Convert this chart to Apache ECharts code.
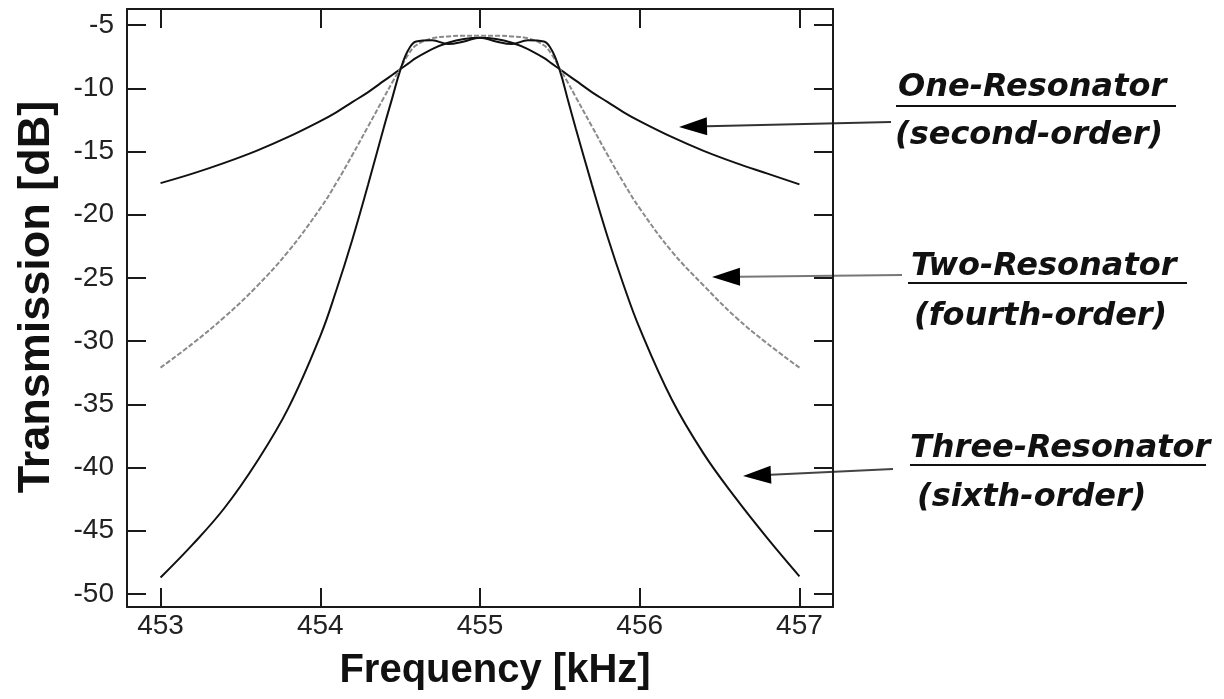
<!DOCTYPE html>
<html>
<head>
<meta charset="utf-8">
<script src="https://cdn.jsdelivr.net/npm/echarts@6/dist/echarts.min.js"></script>
<style>html,body{margin:0;padding:0;background:#fff;}#c{width:1224px;height:699px;}</style>
</head>
<body>
<div id="c"></div>
<script>
// Frequencies (kHz)
var freqs = [453, 453.2, 453.4, 453.6, 453.8, 454, 454.1, 454.2, 454.3, 454.4, 454.45, 454.5, 454.55, 454.6, 454.7, 454.8, 454.9, 455,
             455.1, 455.2, 455.3, 455.4, 455.45, 455.5, 455.55, 455.6, 455.7, 455.8, 455.9, 456, 456.2, 456.4, 456.6, 456.8, 457];
// Transmission (dB)
var oneResonator = [-17.5, -16.75, -15.9, -14.95, -13.85, -12.6, -11.9, -11.1, -10.3, -9.4, -8.95, -8.5, -8.05, -7.6, -6.9, -6.4, -6.1, -6.0,
                    -6.1, -6.4, -6.9, -7.6, -8.05, -8.5, -8.95, -9.4, -10.3, -11.1, -11.9, -12.6, -13.85, -14.95, -15.9, -16.75, -17.6];
var twoResonator = [-32.1, -30.2, -28.1, -25.7, -22.9, -19.5, -17.5, -15.3, -13.0, -10.7, -9.55, -8.45, -7.35, -6.6, -6.05, -5.9, -5.85, -5.85,
                    -5.85, -5.9, -6.05, -6.6, -7.35, -8.45, -9.55, -10.7, -13.0, -15.3, -17.5, -19.5, -22.9, -25.6, -28.1, -30.2, -32.1];
var threeResonator = [-48.7, -46.1, -43.2, -39.6, -35.3, -29.6, -26.0, -22.0, -17.6, -13.0, -10.8, -8.6, -7.0, -6.3, -6.2, -6.5, -6.3, -6.0,
                      -6.3, -6.5, -6.2, -6.3, -7.0, -8.6, -10.9, -13.2, -17.6, -21.8, -25.6, -29.0, -34.6, -38.9, -42.4, -45.6, -48.6];
var xTicks = [453, 454, 455, 456, 457];
var yTicks = [-50, -45, -40, -35, -30, -25, -20, -15, -10, -5];

function pairs(vals) { return freqs.map(function (f, i) { return [f, vals[i]]; }); }

var chart = echarts.init(document.getElementById('c'), null, {renderer: 'canvas'});
var axisCol = '#1a1a1a';
var tickFont = {fontFamily: 'Liberation Sans, Arial, sans-serif', fontSize: 28, color: '#222'};
function xAx(pos, labels) {
  return {
    type: 'value', position: pos, min: 452.79, max: 457.21,
    axisLine: {show: true, onZero: false, lineStyle: {color: axisCol, width: 2}},
    axisTick: {show: true, inside: true, length: 19, customValues: xTicks, lineStyle: {color: axisCol, width: 2}},
    axisLabel: labels ? Object.assign({show: true, margin: 5, customValues: xTicks}, tickFont) : {show: false},
    splitLine: {show: false}
  };
}
function yAx(pos, labels) {
  return {
    type: 'value', position: pos, min: -51.03, max: -3.73,
    axisLine: {show: true, onZero: false, lineStyle: {color: axisCol, width: 2}},
    axisTick: {show: true, inside: true, length: 19, customValues: yTicks, lineStyle: {color: axisCol, width: 2}},
    axisLabel: labels ? Object.assign({show: true, margin: 13, customValues: yTicks}, tickFont) : {show: false},
    splitLine: {show: false}
  };
}
var xA = xAx('bottom', true);
xA.name = 'Frequency [kHz]'; xA.nameLocation = 'middle'; xA.nameGap = 44;
xA.nameTextStyle = {fontFamily: 'Liberation Sans, Arial, sans-serif', fontWeight: 'bold', fontSize: 40, color: '#111', padding: [0, 0, 0, 30]};
var yA = yAx('left', true);
yA.name = 'Transmission [dB]'; yA.nameLocation = 'middle'; yA.nameGap = 68;
yA.nameTextStyle = {fontFamily: 'Liberation Sans, Arial, sans-serif', fontWeight: 'bold', fontSize: 45, color: '#111', padding: [0, 0, 0, 22]};

var annFont = 'DejaVu Sans, Verdana, sans-serif';
function txt(s, x, y) {
  return {type: 'text', x: x, y: y, style: {text: s, font: 'italic bold 32px ' + annFont, fill: '#111', textVerticalAlign: 'middle', textAlign: 'left'}};
}
function uline(x1, x2, y) {
  return {type: 'line', shape: {x1: x1, y1: y, x2: x2, y2: y}, style: {stroke: '#111', lineWidth: 2}};
}
function arrow(x1, y1, x2, y2, col) {
  var ang = Math.atan2(y2 - y1, x2 - x1);
  var L = 28, W = 9;
  var bx = x2 - L * Math.cos(ang), by = y2 - L * Math.sin(ang);
  var px = -Math.sin(ang) * W, py = Math.cos(ang) * W;
  return [
    {type: 'line', shape: {x1: x1, y1: y1, x2: bx, y2: by}, style: {stroke: col, lineWidth: 2}},
    {type: 'polygon', shape: {points: [[x2, y2], [bx + px, by + py], [bx - px, by - py]]}, style: {fill: '#000'}}
  ];
}
var graphics = [].concat(
  [txt('One-Resonator', 898, 88), uline(896, 1176, 106), txt('(second-order)', 895, 136)],
  [txt('Two-Resonator', 911, 267), uline(908, 1187, 283), txt('(fourth-order)', 914, 317)],
  [txt('Three-Resonator', 910, 449), uline(910, 1206, 465), txt('(sixth-order)', 917, 498)],
  arrow(891, 122, 679, 127, '#333'),
  arrow(902, 275, 712, 277, '#777'),
  arrow(893, 469, 743, 476, '#444')
);

chart.setOption({
  animation: false,
  backgroundColor: '#fff',
  grid: {left: 127, top: 9, width: 706, height: 598, show: false},
  xAxis: [xA, xAx('top', false)],
  yAxis: [yA, yAx('right', false)],
  series: [
    {name: 'One-Resonator (second-order)', type: 'line', data: pairs(oneResonator), smooth: 0.4, symbol: 'none',
     lineStyle: {color: '#111', width: 2}},
    {name: 'Two-Resonator (fourth-order)', type: 'line', data: pairs(twoResonator), smooth: 0.4, symbol: 'none',
     lineStyle: {color: '#8a8a8a', width: 2, type: [5, 2]}},
    {name: 'Three-Resonator (sixth-order)', type: 'line', data: pairs(threeResonator), smooth: 0.4, symbol: 'none',
     lineStyle: {color: '#111', width: 2}}
  ],
  graphic: graphics
});
</script>
</body>
</html>
